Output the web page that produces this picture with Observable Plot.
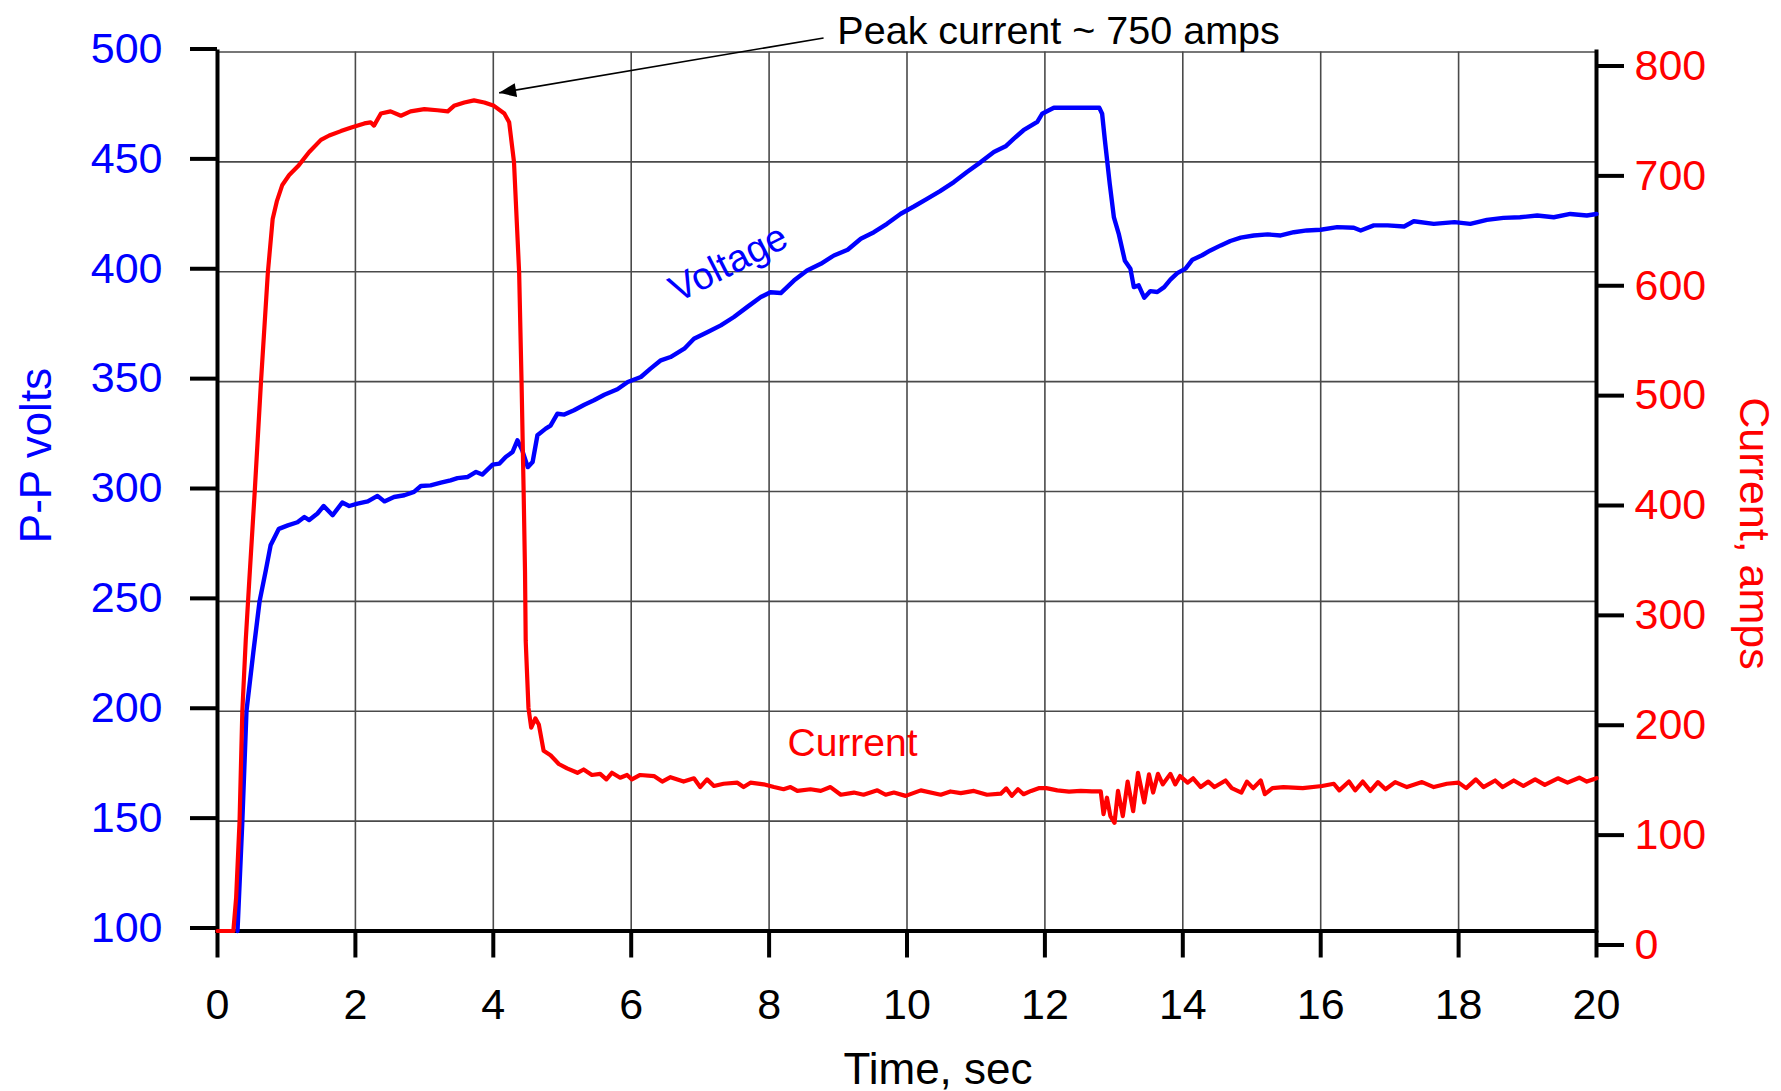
<!DOCTYPE html>
<html>
<head>
<meta charset="utf-8">
<script src="https://cdn.jsdelivr.net/npm/d3@7"></script>
<script src="https://cdn.jsdelivr.net/npm/@observablehq/plot@0.6"></script>
<style>
  html, body { margin: 0; padding: 0; background: #ffffff; }
  #chart { width: 1781px; height: 1091px; }
</style>
</head>
<body>
<div id="chart"></div>
<script>
// Peak-to-peak voltage trace (seconds, volts)
const voltTime = [0.29,0.36,0.42,0.52,0.61,0.70,0.77,0.89,1.02,1.16,1.26,1.33,1.45,1.54,1.67,1.81,1.91,2.03,2.18,2.32,2.42,2.56,2.71,2.85,2.95,3.09,3.24,3.38,3.48,3.63,3.75,3.84,3.99,4.09,4.18,4.28,4.35,4.42,4.50,4.57,4.64,4.76,4.83,4.93,5.03,5.17,5.32,5.46,5.61,5.80,5.95,6.14,6.28,6.43,6.57,6.77,6.91,7.11,7.30,7.49,7.68,7.88,8.02,8.17,8.36,8.55,8.75,8.94,9.14,9.33,9.52,9.71,9.91,10.10,10.29,10.48,10.68,10.87,11.07,11.26,11.43,11.55,11.69,11.89,11.96,12.13,12.79,12.83,12.87,12.94,13.00,13.07,13.16,13.24,13.29,13.36,13.44,13.53,13.63,13.73,13.82,13.92,14.04,14.14,14.28,14.40,14.55,14.69,14.84,15.03,15.23,15.42,15.61,15.80,16.00,16.24,16.48,16.58,16.77,16.97,17.21,17.35,17.64,17.94,18.17,18.41,18.65,18.89,19.14,19.38,19.62,19.86,20.00];
const voltValue = [100,150,200,227,250,264,275.5,283,284.6,286,288.4,287,290,293.4,289.2,295,293.4,294.5,295.5,298,295.5,297.5,298.3,299.8,302.5,302.8,304,305.1,306.1,306.6,308.9,307.7,312.2,312.7,315.7,318,323.3,318.7,311.1,313.4,325.6,328.6,330,335.4,335,337,339.5,341.5,344,346.5,349.8,352.1,355.9,359.7,361.2,365,369.5,372.6,375.6,379.4,383.9,388.5,390.7,390.3,396,400.6,403.6,407.4,410,415,418,421.8,426.4,429.7,433.2,436.7,440.8,445.4,449.9,454.5,457.1,460.6,464.4,468.2,471.9,474.6,474.6,471.9,459.8,440.1,424.9,417.4,405,401.4,393,393.8,388.2,391.2,390.8,393,396.4,399.4,401.4,405.5,407.5,409.7,412,414,415.5,416.5,417,416.5,418,418.8,419.1,420.3,420,418.8,421.1,421.1,420.6,423,421.8,422.6,421.8,423.6,424.5,424.8,425.6,424.8,426.3,425.6,426.3];

// Current trace (seconds, amps)
const ampTime = [0,0.23,0.27,0.32,0.36,0.41,0.46,0.54,0.63,0.73,0.80,0.86,0.94,1.04,1.18,1.33,1.50,1.62,1.79,1.93,2.13,2.22,2.27,2.37,2.51,2.66,2.80,3.00,3.19,3.34,3.43,3.58,3.72,3.87,4.01,4.16,4.23,4.30,4.375,4.41,4.44,4.46,4.47,4.51,4.55,4.61,4.66,4.73,4.83,4.95,5.07,5.22,5.31,5.43,5.55,5.64,5.72,5.84,5.94,6.01,6.13,6.33,6.45,6.57,6.76,6.91,7.00,7.10,7.20,7.34,7.54,7.63,7.73,7.92,8.07,8.21,8.31,8.41,8.60,8.75,8.89,9.04,9.23,9.37,9.57,9.69,9.81,9.98,10.20,10.49,10.63,10.78,10.97,11.16,11.36,11.44,11.52,11.61,11.69,11.80,11.91,12.02,12.18,12.35,12.52,12.68,12.81,12.85,12.90,12.95,13.01,13.06,13.13,13.20,13.28,13.35,13.44,13.51,13.57,13.64,13.71,13.82,13.89,13.96,14.07,14.15,14.26,14.37,14.46,14.62,14.71,14.85,14.93,15.02,15.13,15.19,15.30,15.46,15.74,16.02,16.19,16.27,16.41,16.50,16.61,16.72,16.83,16.94,17.08,17.25,17.47,17.64,17.83,18.00,18.11,18.25,18.36,18.53,18.64,18.80,18.94,19.11,19.25,19.44,19.58,19.75,19.86,20.00];
const ampValue = [0,0,30,100,200,265,318,400,499,599,648,664,679,688,697,709,720,724,728,731,735,736,733,744,746,742,746,748,747,746,751,754,756,754,751,744,736,700,599,499,400,327,264,203,185,193.5,188,164,160,152,148,144,147,142,143,138,144,139.5,142,138,142,141,136,140,136,139,131,138,132,134,135,131,135,133.5,131,129,131,127.5,129,127.5,131,124,126,124,128,124,126,123,128,124,127,125.5,127.5,124,125,129.8,123,129,124.5,127.5,130,130,128,126.8,127.5,127,127,106.4,121.3,104.6,98.5,127.5,104.6,136,109,144,117,142.5,126,143,133.5,143,133.5,141,135,139,131,136,131,137,130,126,136,130,137,124.5,130,131,130,132,134,128,136,128,136,127.5,135.5,129,135.5,131,135.5,131,134,135,130,138,131,137,131,137,132,138,133,139,135,139.5,136,139];

// Axis ticks
const timeTicks = [0, 2, 4, 6, 8, 10, 12, 14, 16, 18, 20];
const voltTicks = [100, 150, 200, 250, 300, 350, 400, 450, 500];
const ampTicks = [0, 100, 200, 300, 400, 500, 600, 700, 800];

// Axis titles
const xTitle = ["Time, sec"];
const yTitle = ["P-P volts"];
const y2Title = ["Current, amps"];

// In-plot series labels
const voltLabel = ["Voltage"];
const voltLabelTime = [7.41];
const voltLabelVolts = [403.8];
const ampLabel = ["Current"];
const ampLabelTime = [9.21];
const ampLabelAmps = [159];

// Peak annotation: text anchor and arrow from the text to the peak
const noteText = ["Peak current ~ 750 amps"];
const noteTime = [8.99];
const noteAmps = [807];
const arrowFromTime = [8.79];
const arrowFromAmps = [812.8];
const arrowToTime = [4.085];
const arrowToAmps = [762.8];

// The current (0–800 A) shares the 100–500 V frame: 0 A sits on 100 V, 800 A on 500 V.
const ampToVolt = (a) => 100 + a / 2;

const volts = voltTime.map((t, i) => ({t, v: voltValue[i]}));
const amps = ampTime.map((t, i) => ({t, a: ampValue[i]}));
const voltNote = voltLabel.map((s, i) => ({s, t: voltLabelTime[i], v: voltLabelVolts[i]}));
const ampNote = ampLabel.map((s, i) => ({s, t: ampLabelTime[i], a: ampLabelAmps[i]}));
const peakNote = noteText.map((s, i) => ({s, t: noteTime[i], a: noteAmps[i]}));
const peakArrow = arrowFromTime.map((t, i) => ({t1: t, a1: arrowFromAmps[i], t2: arrowToTime[i], a2: arrowToAmps[i]}));

const FONT = "'Liberation Sans', Arial, Helvetica, sans-serif";
const BLUE = "#0000ff";
const RED = "#ff0000";
const GRID = "#4a4a4a";

const chart = Plot.plot({
  width: 1781,
  height: 1091,
  marginLeft: 217,
  marginRight: 185,
  marginTop: 51.5,
  marginBottom: 160.5,
  style: {fontFamily: FONT, background: "#ffffff", overflow: "visible"},
  x: {domain: [0, 20], label: null},
  y: {domain: [100, 500], label: null},
  marks: [
    Plot.gridX(timeTicks, {stroke: GRID, strokeOpacity: 1, strokeWidth: 1.6}),
    Plot.gridY(voltTicks, {stroke: GRID, strokeOpacity: 1, strokeWidth: 1.6}),
    Plot.axisX(timeTicks, {
      tickSize: 27, tickPadding: 30, strokeWidth: 4, stroke: "black", fill: "black",
      fontSize: 43, label: null
    }),
    Plot.axisY(voltTicks, {
      anchor: "left", tickSize: 27, tickPadding: 28, strokeWidth: 4, stroke: "black", fill: BLUE,
      fontSize: 43, dy: -3, label: null
    }),
    Plot.axisY(ampTicks.map(ampToVolt), {
      anchor: "right", tickSize: 27, tickPadding: 11, strokeWidth: 4, stroke: "black", fill: RED,
      fontSize: 43, dy: 14, label: null, tickFormat: (v) => String(Math.round((v - 100) * 2))
    }),
    Plot.ruleX([0, 20], {stroke: "black", strokeWidth: 4, strokeLinecap: "square"}),
    Plot.ruleY([100], {stroke: "black", strokeWidth: 4, strokeLinecap: "square"}),
    Plot.line(volts, {x: "t", y: "v", stroke: BLUE, strokeWidth: 4.4, strokeLinejoin: "round"}),
    Plot.line(amps, {x: "t", y: (d) => ampToVolt(d.a), stroke: RED, strokeWidth: 4.2, strokeLinejoin: "round"}),
    Plot.text(voltNote, {
      x: "t", y: "v", text: "s", rotate: -27, textAnchor: "middle", lineAnchor: "middle",
      fontSize: 38, fill: BLUE
    }),
    Plot.text(ampNote, {
      x: "t", y: (d) => ampToVolt(d.a), text: "s", textAnchor: "middle", lineAnchor: "bottom",
      fontSize: 39, fill: RED
    }),
    Plot.text(peakNote, {
      x: "t", y: (d) => ampToVolt(d.a), text: "s", textAnchor: "start", lineAnchor: "bottom",
      fontSize: 39.5, fill: "black"
    }),
    Plot.link(peakArrow, {
      x1: "t1", y1: (d) => ampToVolt(d.a1), x2: "t2", y2: (d) => ampToVolt(d.a2),
      stroke: "black", strokeWidth: 1.6
    }),
    Plot.text(xTitle, {
      frameAnchor: "bottom", text: (d) => d, dx: 31, dy: 153, lineAnchor: "bottom",
      fontSize: 44, fill: "black"
    }),
    Plot.text(yTitle, {
      frameAnchor: "left", text: (d) => d, rotate: -90, dx: -167, dy: -36,
      textAnchor: "middle", lineAnchor: "bottom", fontSize: 44, fill: BLUE
    }),
    Plot.text(y2Title, {
      frameAnchor: "right", text: (d) => d, rotate: 90, dx: 143, dy: 42,
      textAnchor: "middle", lineAnchor: "bottom", fontSize: 43, fill: RED
    })
  ]
});

// Filled arrowhead for the peak annotation
const svg = d3.select(chart);
const defs = svg.insert("defs", ":first-child");
defs.append("marker")
  .attr("id", "peak-head")
  .attr("markerUnits", "userSpaceOnUse")
  .attr("viewBox", "-20 -10 22 20")
  .attr("markerWidth", 22)
  .attr("markerHeight", 20)
  .attr("refX", 0)
  .attr("refY", 0)
  .attr("orient", "auto")
  .append("path")
  .attr("d", "M0,0L-17,-7L-17,7Z")
  .attr("fill", "black");
svg.selectAll('g[aria-label="link"] path, g[aria-label="link"] line')
  .attr("marker-end", "url(#peak-head)");

document.getElementById("chart").appendChild(chart);
</script>
</body>
</html>
